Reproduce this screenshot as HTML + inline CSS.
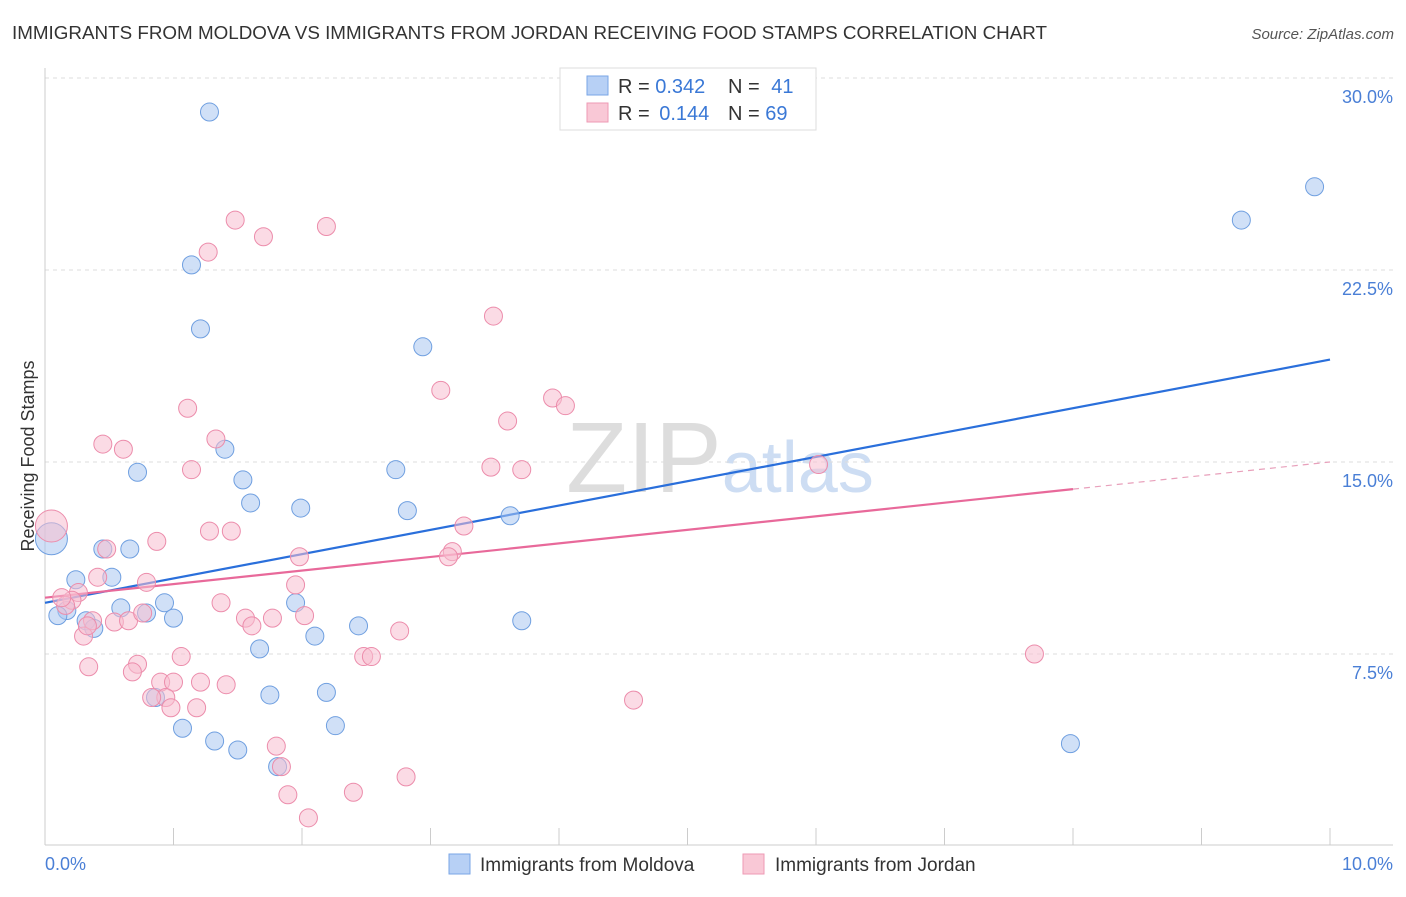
<!DOCTYPE html>
<html><head><meta charset="utf-8">
<style>
body{margin:0;background:#fff;font-family:"Liberation Sans",sans-serif;}
svg text{font-family:"Liberation Sans",sans-serif;}
</style></head>
<body>
<svg id="chart" width="1406" height="892" xmlns="http://www.w3.org/2000/svg">
<text x="12" y="39" font-size="18" fill="#333" textLength="1035" lengthAdjust="spacingAndGlyphs">IMMIGRANTS FROM MOLDOVA VS IMMIGRANTS FROM JORDAN RECEIVING FOOD STAMPS CORRELATION CHART</text>
<text x="1394" y="39" font-size="15" fill="#555" text-anchor="end" font-style="italic">Source: ZipAtlas.com</text>
<text x="720" y="492" font-size="100" fill="#d0d0d0" text-anchor="middle" font-family="Liberation Serif" opacity="0.7">ZIP<tspan fill="#b8cfee" font-family="Liberation Sans" font-size="72">atlas</tspan></text>
<text transform="translate(34,456) rotate(-90)" font-size="18" fill="#333" text-anchor="middle">Receiving Food Stamps</text>
<g id="grid"></g><g id="axes"></g><g id="lines"></g><g id="pts"></g>
<g>
<rect x="560" y="68" width="256" height="62" fill="#fff" stroke="#ddd"/>
<rect x="587" y="76" width="21" height="19" fill="#b7d0f5" stroke="#7aa6e6"/>
<rect x="587" y="103" width="21" height="19" fill="#f9c8d6" stroke="#ee9ab4"/>
<text x="618" y="93" font-size="20" fill="#333">R = <tspan fill="#3a78d6">0.342</tspan></text>
<text x="728" y="93" font-size="20" fill="#333">N = <tspan fill="#3a78d6" dx="6">41</tspan></text>
<text x="618" y="120" font-size="20" fill="#333">R = <tspan fill="#3a78d6" dx="4">0.144</tspan></text>
<text x="728" y="120" font-size="20" fill="#333">N = <tspan fill="#3a78d6">69</tspan></text>
</g>
<g>
<rect x="449" y="854" width="21" height="20" fill="#b7d0f5" stroke="#7aa6e6"/>
<text x="480" y="871" font-size="19" fill="#333">Immigrants from Moldova</text>
<rect x="743" y="854" width="21" height="20" fill="#f9c8d6" stroke="#ee9ab4"/>
<text x="775" y="871" font-size="19" fill="#333">Immigrants from Jordan</text>
</g>
</svg>
<script>
const blueX=[1.28,1.14,1.21,2.94,1.40,0.72,1.54,2.73,1.60,1.99,2.82,3.62,0.45,0.66,0.52,0.24,0.17,0.10,0.32,0.38,0.59,0.79,0.93,1.00,1.95,2.10,2.44,3.71,1.67,0.86,1.75,2.19,1.07,2.26,1.32,1.50,1.81,7.98,9.31,9.88,0.05];
const blueY=[28.67,22.7,20.2,19.5,15.5,14.6,14.3,14.7,13.4,13.2,13.1,12.9,11.6,11.6,10.5,10.4,9.2,9.0,8.8,8.5,9.3,9.1,9.5,8.9,9.5,8.2,8.6,8.8,7.7,5.8,5.9,6.0,4.6,4.7,4.1,3.75,3.1,4.0,24.45,25.75,12.0];
const blueR=[9,9,9,9,9,9,9,9,9,9,9,9,9,9,9,9,9,9,9,9,9,9,9,9,9,9,9,9,9,9,9,9,9,9,9,9,9,9,9,9,16];
const pinkX=[1.48,2.19,1.70,1.27,3.49,3.08,1.11,3.60,3.95,4.05,1.33,0.45,0.61,1.14,3.47,3.71,6.02,0.87,1.28,1.45,3.26,1.98,3.17,3.14,0.48,0.41,0.79,0.26,0.21,0.16,1.95,1.37,2.02,1.56,1.77,1.61,0.37,0.54,0.65,0.76,0.30,2.76,1.06,2.48,2.54,7.70,0.34,0.72,0.68,0.90,1.00,1.21,1.41,0.94,0.83,0.98,1.18,4.58,1.80,1.84,2.81,1.89,2.40,2.05,0.05,0.13,0.33];
const pinkY=[24.45,24.2,23.8,23.2,20.7,17.8,17.1,16.6,17.5,17.2,15.9,15.7,15.5,14.7,14.8,14.7,14.9,11.9,12.3,12.3,12.5,11.3,11.5,11.3,11.6,10.5,10.3,9.9,9.6,9.4,10.2,9.5,9.0,8.9,8.9,8.6,8.8,8.75,8.8,9.1,8.2,8.4,7.4,7.4,7.4,7.5,7.0,7.1,6.8,6.4,6.4,6.4,6.3,5.8,5.8,5.4,5.4,5.7,3.9,3.1,2.7,2.0,2.1,1.1,12.5,9.7,8.6];
const yTicks=[7.5,15.0,22.5,30.0];
const xTickVals=[0,1,2,3,4,5,6,7,8,9,10];
const blueTrend=[9.5,19.0];
const pinkTrend=[9.7,15.0];
const pinkSolidEnd=8.0;

const NS="http://www.w3.org/2000/svg";
const X=v=>45+v*128.5, Y=v=>846-v*25.6;
function mk(p,t,a){const e=document.createElementNS(NS,t);for(const k in a)e.setAttribute(k,a[k]);p.appendChild(e);return e;}
const grid=document.getElementById('grid'),axes=document.getElementById('axes'),lines=document.getElementById('lines'),pts=document.getElementById('pts');
yTicks.forEach(v=>{
 const l=mk(grid,'line',{x1:45,x2:1393,y1:Y(v),y2:Y(v),stroke:'#ddd','stroke-dasharray':'4,4'});
 
 
 const t=mk(grid,'text',{x:1393,y:Y(v)+25,'font-size':18,fill:'#4a7fd6','text-anchor':'end'});t.textContent=v.toFixed(1)+'%';
 
 
});
const ax=mk(axes,'line',{x1:45,x2:1393,y1:845,y2:845,stroke:'#ccc'});


const ay=mk(axes,'line',{x1:45,x2:45,y1:68,y2:845,stroke:'#ccc'});


xTickVals.forEach(v=>{const l=mk(axes,'line',{x1:X(v),x2:X(v),y1:828,y2:845,stroke:'#ccc'});
 
 });
[[0,'start'],[10,'end']].forEach(([v,a])=>{const t=mk(axes,'text',{x:v?1393:45,y:870,'font-size':18,fill:'#4a7fd6','text-anchor':a});t.textContent=v.toFixed(1)+'%';
 
 });
function dots(xs,ys,rs,fill,stroke,name){xs.forEach((x,i)=>{const c=mk(pts,'circle',{cx:X(x),cy:Y(ys[i]),r:rs?rs[i]:9,fill:fill,stroke:stroke,'fill-opacity':0.55,'stroke-width':1});
 
 });}
dots(blueX,blueY,blueR,'#a9c7f0','#6f9fe0','moldova-point');
const pr=pinkX.map((x,i)=>i===64?16:9);
dots(pinkX,pinkY,pr,'#f7bdd0','#ec8cab','jordan-point');
const bl=mk(lines,'line',{x1:X(0),y1:Y(blueTrend[0]),x2:X(10),y2:Y(blueTrend[1]),stroke:'#2a6fdb','stroke-width':2.2});


const pe=pinkTrend[0]+(pinkTrend[1]-pinkTrend[0])*pinkSolidEnd/10;
const pl=mk(lines,'line',{x1:X(0),y1:Y(pinkTrend[0]),x2:X(pinkSolidEnd),y2:Y(pe),stroke:'#e8699a','stroke-width':2.2});


const pd=mk(lines,'line',{x1:X(pinkSolidEnd),y1:Y(pe),x2:X(10),y2:Y(pinkTrend[1]),stroke:'#e8a0bb','stroke-width':1.2,'stroke-dasharray':'6,5'});


</script>
</body></html>
